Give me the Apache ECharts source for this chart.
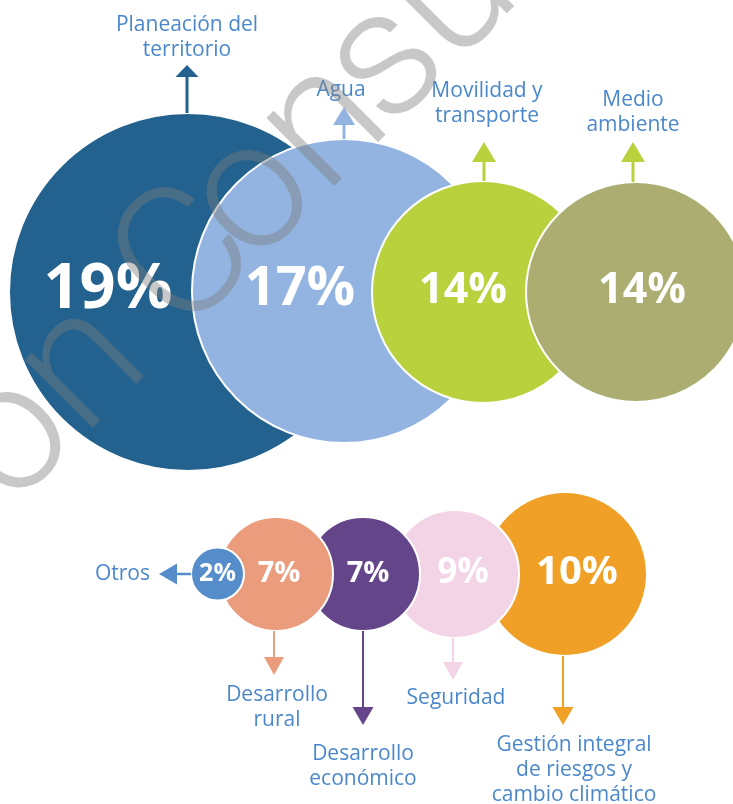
<!DOCTYPE html>
<html><head><meta charset="utf-8">
<script src="https://cdn.jsdelivr.net/npm/echarts@6/dist/echarts.min.js"></script>
<style>html,body{margin:0;padding:0;background:#fff}#c{width:733px;height:804px}</style>
</head><body><div id="c"></div>
<script>
// ---------------- data ----------------
const topCategories = ['Planeación del\nterritorio', 'Agua', 'Movilidad y\ntransporte', 'Medio\nambiente'];
const topValues = [19, 17, 14, 14];
const bottomCategories = ['Otros', 'Desarrollo\nrural', 'Desarrollo\neconómico', 'Seguridad', 'Gestión integral\nde riesgos y\ncambio climático'];
const bottomValues = [2, 7, 7, 9, 10];
const watermarkText = 'onConsu';

// ---------------- layout (axis units) ----------------
const topLayout = [
  {cx:188, cy:292, r:179, color:'#23628F', arrowColor:'#23628F', pctDx:-80, pctDy:-2, pctFont:63, dir:'up', ax:187, tip:65, head:12, headW:23, lw:3, lx:187, ly:25},
  {cx:344, cy:291, r:152, color:'#93B4E0', arrowColor:'#93B4E0', pctDx:-44, pctDy:-1, pctFont:54, dir:'up', ax:344, tip:107, head:18, headW:22, lw:3, lx:341, ly:90},
  {cx:483, cy:292, r:111, color:'#B8D13D', arrowColor:'#B8D13D', pctDx:-20, pctDy:-1, pctFont:43, dir:'up', ax:484, tip:142, head:20, headW:24, lw:3, lx:487, ly:91},
  {cx:636, cy:292, r:110, color:'#ACAE71', arrowColor:'#B8D13D', pctDx:6, pctDy:-1, pctFont:43, dir:'up', ax:633, tip:142, head:20, headW:24, lw:3, lx:633, ly:100}
];
const bottomLayout = [
  {cx:217.5, cy:574, r:26.5, color:'#558DCB', arrowColor:'#558DCB', pctDx:0, pctDy:-0.5, pctFont:25, dir:'left', ay:574, tip:159, head:18, headW:21, lw:2.5, lx:150, ly:574, align:'right'},
  {cx:276, cy:574, r:57, color:'#EB9C7C', arrowColor:'#EB9C7C', pctDx:3, pctDy:-0.5, pctFont:29, dir:'down', ax:274, tip:675, head:18, headW:20, lw:2, lx:277, ly:695},
  {cx:363, cy:574, r:57, color:'#654589', arrowColor:'#654589', pctDx:5, pctDy:-0.5, pctFont:29, dir:'down', ax:363, tip:725, head:18, headW:21, lw:2, lx:363, ly:754},
  {cx:455, cy:574, r:64, color:'#F2D4E6', arrowColor:'#F2D4E6', pctDx:8, pctDy:-1, pctFont:35, dir:'down', ax:453, tip:680, head:18, headW:20, lw:2, lx:456, ly:698},
  {cx:565, cy:574, r:82, color:'#F0A026', arrowColor:'#F0A026', pctDx:12, pctDy:-1, pctFont:40, dir:'down', ax:563, tip:725, head:18, headW:21, lw:2, lx:574, ly:745}
];
// watermark: origin (first letter centre), angle, letter offsets along the baseline
const watermarkLayout = {x:13, y:440, angleDeg:45, font:'300 182px Roboto', dy:2,
  offsets:[0, 101, 250, 342, 443, 530, 625]};

const LABEL_COLOR = '#4B88CB';
const LINE_H = 25;

function makeRenderer(layout, categories, reverse) {
  return function (params, api) {
    const i = params.dataIndex;
    const L = layout[i];
    const P = (x, y) => api.coord([x, y]);
    const c = P(api.value(0), api.value(1));
    const r = api.size([L.r, 0])[0];
    const base = reverse ? (layout.length - i) * 4 : i * 4;
    const kids = [];
    kids.push({type:'circle', z2: base, shape:{cx:c[0], cy:c[1], r:r},
      style:{fill:L.color, stroke:'#ffffff', lineWidth:2}});
    let p1, pb, tri;
    if (L.dir === 'up' || L.dir === 'down') {
      const dx = L.ax - L.cx;
      const h = Math.sqrt(Math.max(L.r * L.r - dx * dx, 0));
      const sgn = L.dir === 'up' ? -1 : 1;
      const startY = L.cy + sgn * h;
      const baseY = L.tip - sgn * L.head;
      p1 = P(L.ax, startY); pb = P(L.ax, baseY);
      tri = [P(L.ax, L.tip), P(L.ax - L.headW / 2, baseY), P(L.ax + L.headW / 2, baseY)];
    } else {
      const startX = L.cx - L.r;
      const baseX = L.tip + L.head;
      p1 = P(startX, L.ay); pb = P(baseX, L.ay);
      tri = [P(L.tip, L.ay), P(baseX, L.ay - L.headW / 2), P(baseX, L.ay + L.headW / 2)];
    }
    kids.push({type:'line', z2: base + 1, shape:{x1:p1[0], y1:p1[1], x2:pb[0], y2:pb[1]},
      style:{stroke:L.arrowColor, lineWidth:L.lw}});
    kids.push({type:'polygon', z2: base + 1, shape:{points:tri}, style:{fill:L.arrowColor}});
    const pt = P(L.cx + L.pctDx, L.cy + L.pctDy);
    kids.push({type:'text', z2: base + 2, style:{
      text: api.value(2) + '%', x: pt[0], y: pt[1],
      fill:'#ffffff', font:'bold ' + L.pctFont + 'px "Open Sans"',
      textAlign:'center', textVerticalAlign:'middle'}});
    const lp = P(L.lx, L.ly);
    kids.push({type:'text', z2: base + 2, style:{
      text: categories[i], x: lp[0], y: lp[1] - LINE_H / 2,
      fill: LABEL_COLOR, font:'21px "Open Sans"', lineHeight: LINE_H,
      textAlign: L.align || 'center', textVerticalAlign:'top'}});
    return {type:'group', children:kids};
  };
}

const W = watermarkLayout;
const watermarkChildren = watermarkText.split('').map((ch, k) => ({
  type:'text', silent:true, z:100,
  style:{text: ch, x: W.offsets[k], y: W.dy, font: W.font, fill:'rgba(124,124,124,0.42)',
    textAlign:'center', textVerticalAlign:'middle'}
}));

const chart = echarts.init(document.getElementById('c'), null, {renderer:'canvas'});
chart.setOption({
  animation:false,
  backgroundColor:'#ffffff',
  grid:{left:0, right:0, top:0, bottom:0, outerBoundsMode:'none'},
  xAxis:{type:'value', min:0, max:733, show:false},
  yAxis:{type:'value', min:0, max:804, inverse:true, show:false},
  series:[
    {type:'custom', coordinateSystem:'cartesian2d', clip:false,
     data: topValues.map((v, i) => ({name: topCategories[i], value:[topLayout[i].cx, topLayout[i].cy, v]})),
     encode:{x:0, y:1}, renderItem: makeRenderer(topLayout, topCategories, false)},
    {type:'custom', coordinateSystem:'cartesian2d', clip:false,
     data: bottomValues.map((v, i) => ({name: bottomCategories[i], value:[bottomLayout[i].cx, bottomLayout[i].cy, v]})),
     encode:{x:0, y:1}, renderItem: makeRenderer(bottomLayout, bottomCategories, true)}
  ],
  graphic:[{
    type:'group', x: W.x, y: W.y, rotation: W.angleDeg * Math.PI / 180, z:100, silent:true,
    children: watermarkChildren
  }]
});
</script></body></html>
